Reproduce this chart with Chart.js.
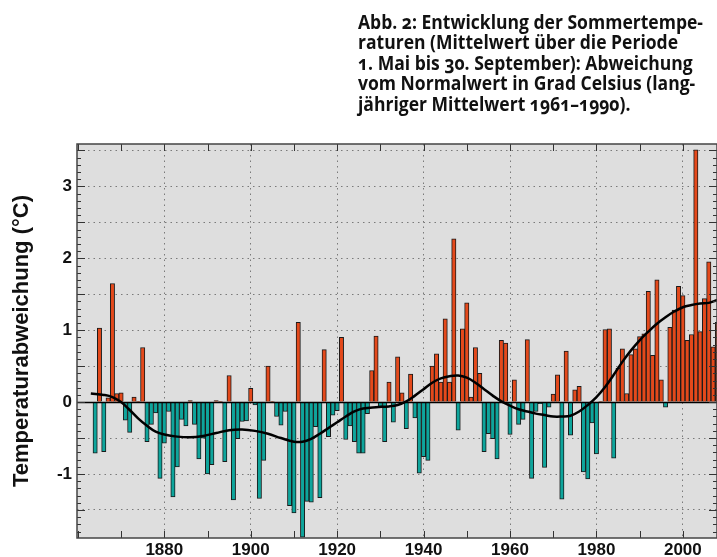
<!DOCTYPE html>
<html>
<head>
<meta charset="utf-8">
<style>
  html, body { margin: 0; padding: 0; background: #fff; }
  #wrap { position: relative; width: 717px; height: 557px; overflow: hidden; }
  #myChart { position: absolute; left: 0; top: 0; }
  #caption {
    position: absolute; left: 358px; top: 12px;
    font-family: "Open Sans", sans-serif; font-weight: 700;
    font-size: 19px; line-height: 20.4px; color: #111;
    font-variant-numeric: oldstyle-nums; white-space: nowrap;
    transform-origin: 0 0; transform: scaleX(0.93);
  }
</style>
<script src="https://cdn.jsdelivr.net/npm/chart.js@4.4.0/dist/chart.umd.min.js"></script>
</head>
<body>
<div id="wrap">
  <canvas id="myChart" width="717" height="557"></canvas>
  <div id="caption"><span id="cap1">Abb. 2: Entwicklung der Sommertempe-</span><br>raturen (Mittelwert über die Periode<br>1. Mai bis 30. September): Abweichung<br>vom Normalwert in Grad Celsius (lang-<br>jähriger Mittelwert 1961–1990).</div>
</div>
<script>
// summer temperature anomaly per year, deg C
const firstYear = 1864;
const anomaly = [
  -0.71, 1.03, -0.69, 0.06, 1.65, 0.12,                          // 1864-1869
  0.13, -0.25, -0.42, 0.07, 0.01, 0.76, -0.55, -0.31, -0.15, -1.06, // 1870s
  -0.57, -0.13, -1.32, -0.90, -0.24, -0.33, 0.02, -0.31, -0.79, -0.50, // 1880s
  -1.00, -0.87, 0.02, 0.01, -0.83, 0.37, -1.36, -0.51, -0.27, -0.26, // 1890s
  0.19, -0.04, -1.34, -0.81, 0.50, 0.01, -0.20, -0.32, -0.13, -1.44, // 1900s
  -1.54, 1.11, -1.88, -1.38, -1.39, -0.34, -1.33, 0.73, -0.48, -0.18, // 1910s
  -0.12, 0.90, -0.52, -0.33, -0.55, -0.71, -0.71, -0.16, 0.44, 0.92, // 1920s
  -0.06, -0.55, 0.28, -0.28, 0.63, 0.13, -0.37, 0.39, -0.22, -0.99, // 1930s
  -0.76, -0.81, 0.50, 0.67, 0.28, 1.16, 0.28, 2.27, -0.39, 1.02,  // 1940s
  1.38, 0.07, 0.76, 0.40, -0.69, -0.44, -0.51, -0.79, 0.86, 0.82, // 1950s
  -0.45, 0.31, -0.31, -0.24, 0.87, -1.06, -0.13, -0.02, -0.91, -0.07, // 1960s
  0.11, 0.38, -1.35, 0.71, -0.46, 0.17, 0.22, -0.97, -1.07, -0.29, // 1970s
  -0.72, 0.01, 1.01, 1.02, -0.78, 0.47, 0.74, 0.12, 0.66, 0.74,   // 1980s
  0.91, 0.95, 1.54, 0.65, 1.70, 0.31, -0.07, 1.04, 1.28, 1.61,    // 1990s
  1.48, 0.86, 0.94, 3.51, 0.98, 1.44, 1.95, 0.77, 1.11            // 2000-2008
];
const years = anomaly.map((v, i) => firstYear + i);

// smoothed curve
const smoothYears = [1863, 1866, 1868, 1870, 1872, 1874, 1876, 1878, 1880, 1883, 1886, 1889, 1892, 1895, 1898,
  1901, 1904, 1907, 1910, 1912, 1914, 1916, 1918, 1920, 1922, 1924, 1926, 1929, 1932, 1934, 1936, 1938,
  1940, 1942, 1944, 1946, 1948, 1950, 1952, 1954, 1956, 1958, 1960, 1962, 1964, 1966, 1968, 1970, 1972,
  1974, 1976, 1978, 1980, 1982, 1984, 1986, 1988, 1990, 1992, 1994, 1996, 1998, 2000, 2002, 2004, 2006, 2008];
const smoothValues = [0.12, 0.10, 0.07, 0.00, -0.11, -0.23, -0.33, -0.41, -0.45, -0.48, -0.49, -0.47, -0.43, -0.39, -0.38,
  -0.40, -0.44, -0.50, -0.55, -0.55, -0.51, -0.44, -0.36, -0.28, -0.20, -0.13, -0.09, -0.07, -0.06, -0.04, 0.01, 0.09,
  0.18, 0.27, 0.33, 0.36, 0.37, 0.34, 0.27, 0.18, 0.09, 0.01, -0.05, -0.10, -0.13, -0.16, -0.18, -0.20, -0.20,
  -0.19, -0.13, -0.04, 0.07, 0.21, 0.38, 0.56, 0.72, 0.86, 0.98, 1.09, 1.18, 1.26, 1.32, 1.35, 1.37, 1.38, 1.42];

const xLabelYears = [1880, 1900, 1920, 1940, 1960, 1980, 2000];
const yLabels = [-1, 0, 1, 2, 3];
const yGridLines = [-1.5, -1, -0.5, 0.5, 1, 1.5, 2, 2.5, 3, 3.5];

const warm = '#e4491b';
const cold = '#0ea59c';

// squeeze the caption so its first line is as wide as in the figure (offsetWidth ignores the transform)
const cap = document.getElementById('caption');
const fitCaption = () => {
  const w = document.getElementById('cap1').offsetWidth;
  if (w > 0) cap.style.transform = 'scaleX(' + (345 / w) + ')';
};
fitCaption();
if (document.fonts) document.fonts.ready.then(fitCaption);

const plotDecor = {
  id: 'plotDecor',
  beforeDraw(chart) {
    const {ctx, chartArea: a} = chart;
    ctx.save();
    ctx.fillStyle = '#dedede';
    ctx.fillRect(a.left, a.top, a.right - a.left, a.bottom - a.top);
    ctx.restore();
  },
  afterDatasetDraw(chart, args) {
    if (args.index !== 1) return;
    const {ctx, chartArea: a, scales: {y}} = chart;
    const y0 = Math.round(y.getPixelForValue(0)) + 0.5;
    ctx.save();
    ctx.strokeStyle = '#000';
    ctx.lineWidth = 1.5;
    ctx.beginPath();
    ctx.moveTo(a.left, y0);
    ctx.lineTo(a.right, y0);
    ctx.stroke();
    ctx.restore();
  },
  afterDraw(chart) {
    const {ctx, chartArea: a, scales: {x, y}} = chart;
    ctx.save();
    ctx.strokeStyle = '#333';
    ctx.lineWidth = 1;
    ctx.beginPath();
    for (let k = -18; k <= 35; k++) {
      const py = Math.round(y.getPixelForValue(k / 10)) + 0.5;
      const len = k % 5 === 0 ? 8 : 4;
      ctx.moveTo(a.left, py); ctx.lineTo(a.left + len, py);
      ctx.moveTo(a.right, py); ctx.lineTo(a.right - len, py);
    }
    for (let yr = 1860; yr <= 2000; yr += 10) {
      const px = Math.round(x.getPixelForValue(yr)) + 0.5;
      ctx.moveTo(px, a.top); ctx.lineTo(px, a.top + 7);
      ctx.moveTo(px, a.bottom); ctx.lineTo(px, a.bottom - 7);
    }
    ctx.stroke();
    ctx.strokeStyle = '#444';
    ctx.lineWidth = 1.5;
    ctx.strokeRect(a.left, a.top, a.right - a.left, a.bottom - a.top);
    ctx.restore();
  }
};

const labelFont = {family: 'Liberation Sans', weight: 'bold', size: 17};

new Chart('myChart', {
  data: {
    datasets: [
      {
        type: 'line',
        data: smoothYears.map((yr, i) => ({x: yr, y: smoothValues[i]})),
        borderColor: '#000',
        borderWidth: 2.5,
        pointRadius: 0,
        tension: 0.4,
        order: 0
      },
      {
        type: 'bar',
        data: years.map((yr, i) => ({x: yr, y: anomaly[i]})),
        backgroundColor: anomaly.map(v => v >= 0 ? warm : cold),
        borderColor: '#1a1a1a',
        borderWidth: 1,
        barPercentage: 1,
        categoryPercentage: 1,
        order: 1
      }
    ]
  },
  options: {
    responsive: false,
    animation: false,
    devicePixelRatio: 1,
    layout: {padding: {top: 144, left: 0, right: 0, bottom: 0}},
    plugins: {legend: {display: false}, tooltip: {enabled: false}},
    scales: {
      x: {
        type: 'linear',
        offset: false,
        min: 1859.8,
        max: 2007.9,
        afterBuildTicks: s => { s.ticks = xLabelYears.map(v => ({value: v})); },
        afterFit: s => { s.height = 19; },
        grid: {color: '#7a7a7a', lineWidth: 1, drawTicks: false, offset: false},
        border: {display: false, dash: [1.5, 4]},
        ticks: {font: labelFont, color: '#111', padding: 2, maxRotation: 0, callback: v => String(v)}
      },
      y: {
        min: -1.89,
        max: 3.59,
        afterBuildTicks: s => { s.ticks = yGridLines.concat([0]).map(v => ({value: v})); },
        afterFit: s => { s.width = 77; },
        grid: {color: c => c.tick && c.tick.value === 0 ? 'rgba(0,0,0,0)' : '#7a7a7a', lineWidth: 1, drawTicks: false},
        border: {display: false, dash: [1.5, 4]},
        ticks: {
          font: labelFont, color: '#111', padding: 5,
          callback: v => yLabels.includes(v) ? String(v) : ''
        },
        title: {
          display: true,
          text: 'Temperaturabweichung (°C)',
          font: {family: 'Liberation Sans', weight: 'bold', size: 22},
          color: '#111',
          padding: {top: 9, bottom: 0}
        }
      }
    }
  },
  plugins: [plotDecor]
});
</script>
</body>
</html>
